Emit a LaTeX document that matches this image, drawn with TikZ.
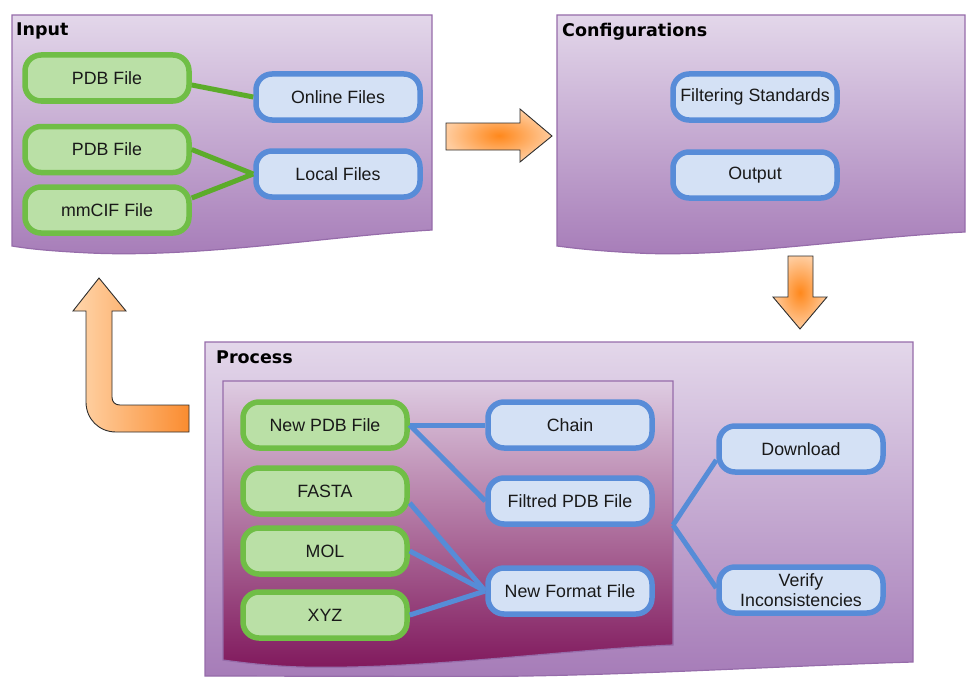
\documentclass[tikz,border=0pt]{standalone}
\usepackage{fontspec}
\setmainfont{Liberation Sans}
\newfontfamily\titlefam{DejaVu Sans}
\usetikzlibrary{calc}

% palette
\definecolor{gfill}{RGB}{186,224,166}
\definecolor{gborder}{RGB}{112,190,70}
\definecolor{glink}{RGB}{92,172,42}
\definecolor{bfill}{RGB}{212,225,245}
\definecolor{bborder}{RGB}{88,140,216}
\definecolor{blink}{RGB}{86,140,215}
\definecolor{ptop}{RGB}{227,215,234}
\definecolor{pbot}{RGB}{166,124,184}
\definecolor{pborder}{RGB}{150,108,170}
\definecolor{itop}{RGB}{222,204,226}
\definecolor{imid}{RGB}{180,112,160}
\definecolor{ibot}{RGB}{128,24,92}
\definecolor{txt}{RGB}{25,25,25}
\definecolor{arrowedge}{RGB}{45,45,45}
\definecolor{orcore}{RGB}{255,136,28}
\definecolor{orrim}{RGB}{255,204,158}
\definecolor{orlight}{RGB}{255,214,172}
\definecolor{ordark}{RGB}{250,140,48}

\tikzset{
  boxbase/.style={line width=5.5pt, rounded corners=16pt,
    minimum width=164pt, minimum height=46pt, inner sep=0pt,
    align=center, text=txt, font=\fontsize{17.8}{20}\selectfont},
  greenbox/.style={boxbase, draw=gborder, fill=gfill},
  bluebox/.style={boxbase, draw=bborder, fill=bfill},
  gline/.style={draw=glink, line width=5pt},
  bline/.style={draw=blink, line width=5pt},
  panel/.style={draw=pborder, line width=1.2pt, top color=ptop, bottom color=pbot},
  innerpanel/.style={draw=pborder, line width=1.2pt, top color=itop, middle color=imid, bottom color=ibot},
  paneltitle/.style={anchor=base west, inner sep=0pt, text=black,
    font=\titlefam\bfseries\fontsize{17.5}{20}\selectfont},
  fatarrow/.style={draw=arrowedge, line width=0.9pt, line join=miter},
}

\begin{document}
\begin{tikzpicture}[x=1pt,y=-1pt]
\useasboundingbox (0,0) rectangle (967,677);

% ---------- panels ----------
\shade[panel] (12,15) -- (432,15) -- (432,230)
  .. controls (330,236) and (200,258) .. (90,253)
  .. controls (50,251) and (30,249) .. (12,246) -- cycle;
\node[paneltitle] (tin) at (16,36) {Input};

\shade[panel] (557,15) -- (965,15) -- (965,232)
  .. controls (860,237) and (730,258) .. (637,253)
  .. controls (600,251) and (580,249) .. (557,246) -- cycle;
\node[paneltitle] (tconf) at (562,37) {Configurations};

\shade[panel] (205,342) -- (913,342) -- (913,662)
  .. controls (780,666) and (620,676) .. (480,676.5) -- (205,676) -- cycle;
\node[paneltitle] (tproc) at (216,363) {Process};

\shade[innerpanel] (223,381) -- (673,381) -- (673,645)
  .. controls (560,650) and (420,670) .. (300,667)
  .. controls (270,666) and (245,663) .. (223,660) -- cycle;
\coordinate (innerE) at (673,525);

% ---------- block arrows ----------
\shade[fatarrow, inner color=orcore, outer color=orrim]
  (446,123) -- (520,123) -- (520,109) -- (552,136) -- (520,162)
  -- (520,150) -- (446,150) -- cycle;

\shade[fatarrow, inner color=orcore, outer color=orrim]
  (788,256) -- (813,256) -- (813,297) -- (827,297) -- (800,329)
  -- (773,297) -- (788,297) -- cycle;

\shade[fatarrow, left color=orlight, right color=ordark]
  (99,278) -- (126,311) -- (112,311) -- (112,397)
  .. controls (112,402) and (115,405) .. (120,405) -- (189,405)
  -- (189,432) -- (116,432)
  .. controls (99,432) and (86,419) .. (86,402)
  -- (86,311) -- (73,311) -- cycle;

% ---------- Input ----------
\node[greenbox] (in1) at (107,78) {PDB File};
\node[greenbox] (in2) at (107,149.5) {PDB File};
\node[greenbox] (in3) at (107,210) {mmCIF File};
\node[bluebox] (online) at (338,97) {Online Files};
\node[bluebox] (local) at (338,174) {Local Files};

\draw[gline] ($(in1.east)+(0,7)$) -- (online.west);
\draw[gline] (in2.east) -- (local.west);
\draw[gline] ($(in3.east)+(0,-12)$) -- (local.west);

% ---------- Configurations ----------
\node[bluebox] (filt) at (755,97) {Filtering Standards};
\node[bluebox] (outp) at (755,175) {Output};

% ---------- Process ----------
\node[greenbox] (newpdb) at (325,425) {New PDB File};
\node[greenbox] (fasta) at (325,491) {FASTA};
\node[greenbox] (mol) at (325,551) {MOL};
\node[greenbox] (xyz) at (325,615) {XYZ};
\node[bluebox] (chain) at (570,425) {Chain};
\node[bluebox] (filtred) at (570,501) {Filtred PDB File};
\node[bluebox] (newfmt) at (570,591) {New Format File};
\node[bluebox] (download) at (801,449) {Download};
\node[bluebox] (verify) at (801,590) {Verify\\Inconsistencies};

\draw[bline] (newpdb.east) -- (chain.west);
\draw[bline] (newpdb.east) -- (filtred.west);
\draw[bline] ($(fasta.east)+(0,12)$) -- (newfmt.west);
\draw[bline] (mol.east) -- (newfmt.west);
\draw[bline] (xyz.east) -- (newfmt.west);
\draw[bline] (innerE) -- ($(download.west)+(0,11)$);
\draw[bline] (innerE) -- ($(verify.west)+(0,-2)$);
\end{tikzpicture}
\end{document}
